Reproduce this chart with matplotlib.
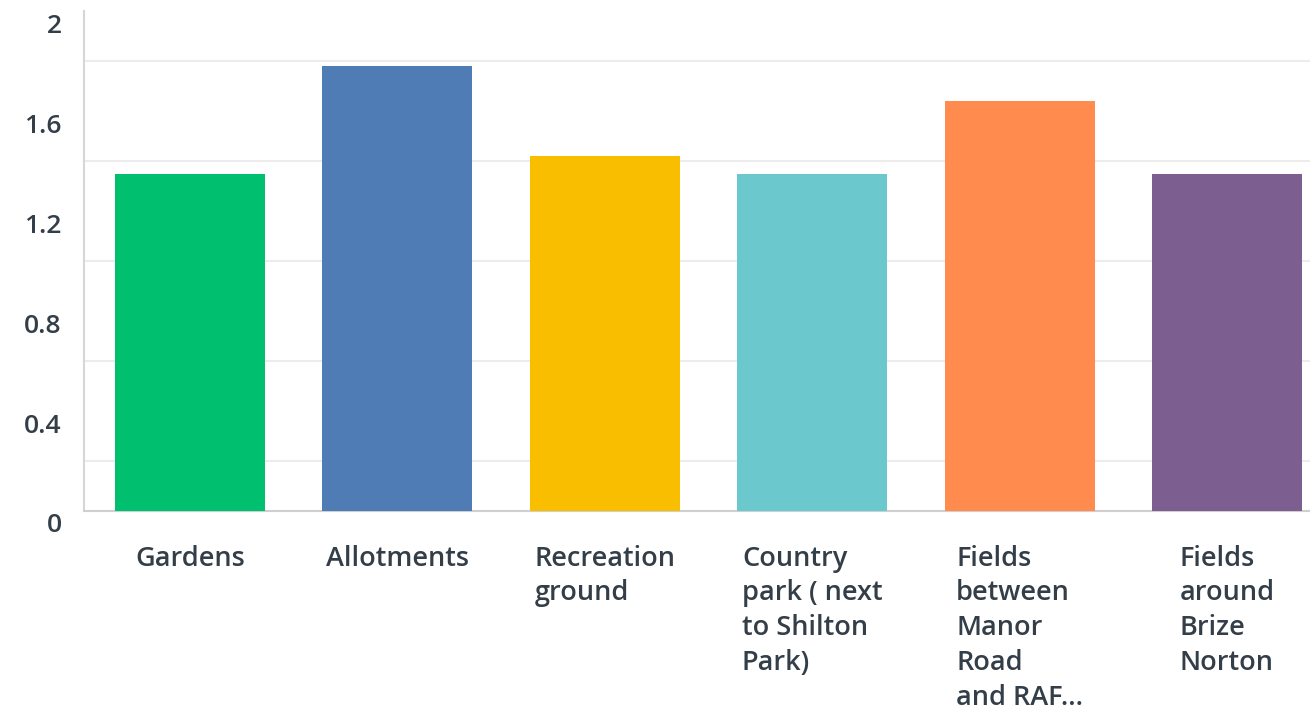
import matplotlib
matplotlib.use('Agg')
import matplotlib.pyplot as plt
import matplotlib.transforms as mtransforms

# dados (média por local)
locais = ['Gardens', 'Allotments', 'Recreation\nground',
          'Country\npark ( next\nto Shilton\nPark)',
          'Fields\nbetween\nManor\nRoad\nand RAF...',
          'Fields\naround\nBrize\nNorton']
medias = [1.35, 1.78, 1.42, 1.35, 1.64, 1.35]
cores = ['#00bf6f', '#507cb6', '#f9be00', '#6bc8cd', '#ff8b4f', '#7d5e90']

yticks_labels = [0, 0.4, 0.8, 1.2, 1.6, 2]
grade = [0.2, 0.4, 0.6, 0.8, 1.0, 1.2, 1.4, 1.6, 1.8]

texto = '#333e48'
plt.rcParams['font.family'] = ['Open Sans', 'DejaVu Sans']

fig = plt.figure(figsize=(13.1, 7.11), dpi=100)
ax = fig.add_axes([0.0641, 0.2813, 0.9359, 0.7032])

x = list(range(len(locais)))
ax.bar(x, medias, width=0.723, color=cores, zorder=3)

ax.set_xlim(-0.511, 5.40)
ax.set_ylim(0, 2)

# linhas de grade a cada 0.2 (sem linha no topo)
ax.set_yticks(grade, minor=True)
ax.grid(True, which='minor', axis='y', color='#ececec', linewidth=1.5, zorder=0)
ax.tick_params(which='minor', length=0)

ax.set_yticks(yticks_labels)
ax.set_yticklabels(['0', '0.4', '0.8', '1.2', '1.6', '2'])
ax.tick_params(axis='y', which='major', length=0, pad=16,
               labelsize=19, labelcolor=texto)
for lbl in ax.get_yticklabels():
    lbl.set_fontweight('semibold')
    lbl.set_transform(lbl.get_transform() +
                      mtransforms.ScaledTranslation(0, -12/100, fig.dpi_scale_trans))

ax.set_xticks(x)
ax.set_xticklabels([])
ax.tick_params(axis='x', length=0)
for xi, nome in zip(x, locais):
    ax.text(xi, -0.135, nome, ha='center', va='top', multialignment='left',
            fontsize=19.5, fontweight='semibold', color=texto, linespacing=1.32,
            transform=ax.transData, clip_on=False)

for lado in ['top', 'right']:
    ax.spines[lado].set_visible(False)
ax.spines['left'].set_color('#d6d6d6')
ax.spines['bottom'].set_color('#cfcfcf')
ax.spines['left'].set_linewidth(1.5)
ax.spines['bottom'].set_linewidth(1.5)

fig.savefig('out.png', dpi=100)
